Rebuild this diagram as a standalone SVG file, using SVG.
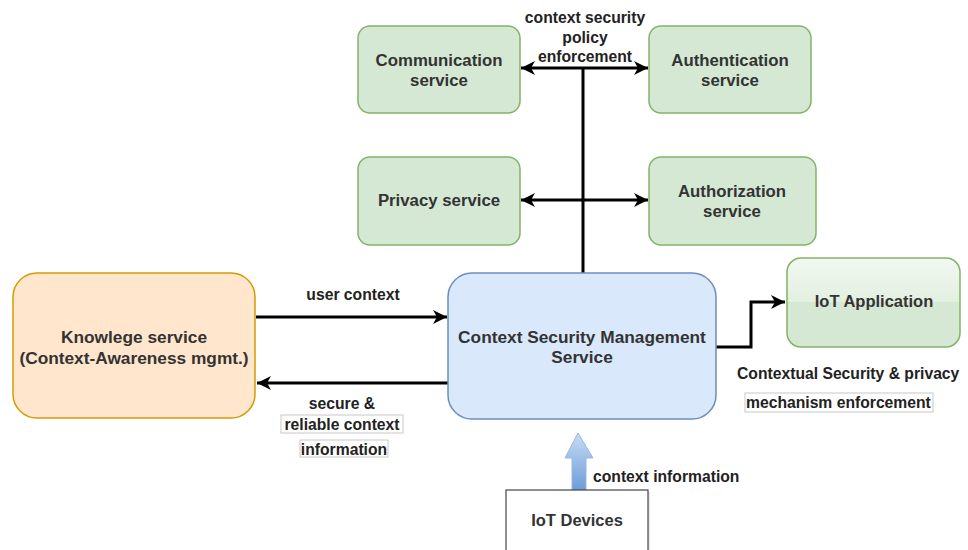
<svg xmlns="http://www.w3.org/2000/svg" width="968" height="550" viewBox="0 0 968 550">
<style>
.node{font-family:"Liberation Sans",Arial,sans-serif;font-weight:bold;fill:#333;text-anchor:middle}
.lbl{font-family:"Liberation Sans",Arial,sans-serif;font-weight:bold;font-size:15.7px;fill:#222}
.green{fill:#d5e8d4;stroke:#82b366;stroke-width:1.5}
.edge{fill:none;stroke:#000;stroke-width:3}
.lblbox{fill:#fff;stroke:#c8c8c8;stroke-width:1}
</style>
<defs>
<marker id="arr" markerUnits="userSpaceOnUse" markerWidth="16" markerHeight="16" viewBox="0 0 16 16" refX="15" refY="8" orient="auto-start-reverse">
<path d="M1,1 L15,8 L1,15 L5,8 Z" fill="#000"/>
</marker>
<linearGradient id="glass" x1="0" y1="0" x2="0" y2="1">
<stop offset="0" stop-color="#f1f8f0"/>
<stop offset="0.5" stop-color="#e2f0e0"/>
<stop offset="0.5" stop-color="#d5e8d4"/>
<stop offset="1" stop-color="#d5e8d4"/>
</linearGradient>
<linearGradient id="blueArrow" x1="0" y1="0" x2="0" y2="1">
<stop offset="0" stop-color="#c7dcf5"/>
<stop offset="1" stop-color="#6a9bd8"/>
</linearGradient>
</defs>

<g id="connectors">
<line class="edge" x1="583" y1="68" x2="583" y2="273"/>
<line class="edge" x1="583" y1="68" x2="521" y2="68" marker-end="url(#arr)"/>
<line class="edge" x1="583" y1="68" x2="648" y2="68" marker-end="url(#arr)"/>
<line class="edge" x1="521" y1="200" x2="648" y2="200" marker-start="url(#arr)" marker-end="url(#arr)"/>
<line class="edge" x1="256" y1="317" x2="447" y2="317" marker-end="url(#arr)"/>
<line class="edge" x1="448" y1="383" x2="257" y2="383" marker-end="url(#arr)"/>
<polyline class="edge" points="716,347 751,347 751,302 785,302" marker-end="url(#arr)"/>
<path d="M578,433 L593,458 L586,458 L586,491 L572,491 L572,458 L565,458 Z" fill="url(#blueArrow)" stroke="#9ab7e0" stroke-width="1"/>
</g>

<g id="labels">
<text class="lbl" x="585" y="23" text-anchor="middle">context security</text>
<text class="lbl" x="585" y="43" text-anchor="middle">policy</text>
<text class="lbl" x="585" y="62" text-anchor="middle">enforcement</text>
<text class="lbl" x="353" y="300" text-anchor="middle">user context</text>
<text class="lbl" x="342" y="409" text-anchor="middle">secure &amp;</text>
<rect class="lblbox" x="281" y="415" width="122" height="18"/>
<text class="lbl" x="342" y="430" text-anchor="middle">reliable context</text>
<rect class="lblbox" x="300" y="440" width="88" height="17"/>
<text class="lbl" x="344" y="455" text-anchor="middle">information</text>
<text class="lbl" x="737" y="379">Contextual Security &amp; privacy</text>
<rect class="lblbox" x="745" y="393" width="188" height="19"/>
<text class="lbl" x="746" y="408">mechanism enforcement</text>
<text class="lbl" x="593" y="482">context information</text>
</g>

<g id="communication">
<rect class="green" x="358" y="26" width="162" height="87" rx="12"/>
<text class="node" font-size="16.8" x="439" y="66">Communication</text>
<text class="node" font-size="16.8" x="439" y="86">service</text>
</g>
<g id="authentication">
<rect class="green" x="649" y="26" width="162" height="87" rx="12"/>
<text class="node" font-size="16.8" x="730" y="66">Authentication</text>
<text class="node" font-size="16.8" x="730" y="86">service</text>
</g>
<g id="privacy">
<rect class="green" x="358" y="157" width="162" height="88" rx="12"/>
<text class="node" font-size="16.8" x="439" y="206">Privacy service</text>
</g>
<g id="authorization">
<rect class="green" x="649" y="157" width="167" height="88" rx="12"/>
<text class="node" font-size="16.8" x="732" y="197">Authorization</text>
<text class="node" font-size="16.8" x="732" y="217">service</text>
</g>
<g id="knowledge">
<rect x="13" y="273" width="242" height="145" rx="24" fill="#ffe6cc" stroke="#d79b00" stroke-width="1.5"/>
<text class="node" font-size="17.3" x="134" y="343">Knowlege service</text>
<text class="node" font-size="17.3" x="134" y="364">(Context-Awareness mgmt.)</text>
</g>
<g id="csms">
<rect x="448" y="273" width="268" height="146" rx="24" fill="#dae8fc" stroke="#6c8ebf" stroke-width="1.5"/>
<text class="node" font-size="17.3" x="582" y="343">Context Security Management</text>
<text class="node" font-size="17.3" x="582" y="363">Service</text>
</g>
<g id="iotapp">
<rect x="787" y="258" width="173" height="89" rx="14" fill="url(#glass)" stroke="#82b366" stroke-width="1.5"/>
<text class="node" font-size="16.5" x="874" y="307">IoT Application</text>
</g>
<g id="iotdevices">
<rect x="508" y="492" width="142" height="62" fill="#e8e8e8" stroke="none"/>
<rect x="506" y="490" width="142" height="62" fill="#fff" stroke="#444" stroke-width="1.2"/>
<text class="node" font-size="16.5" x="577" y="526">IoT Devices</text>
</g>
</svg>
